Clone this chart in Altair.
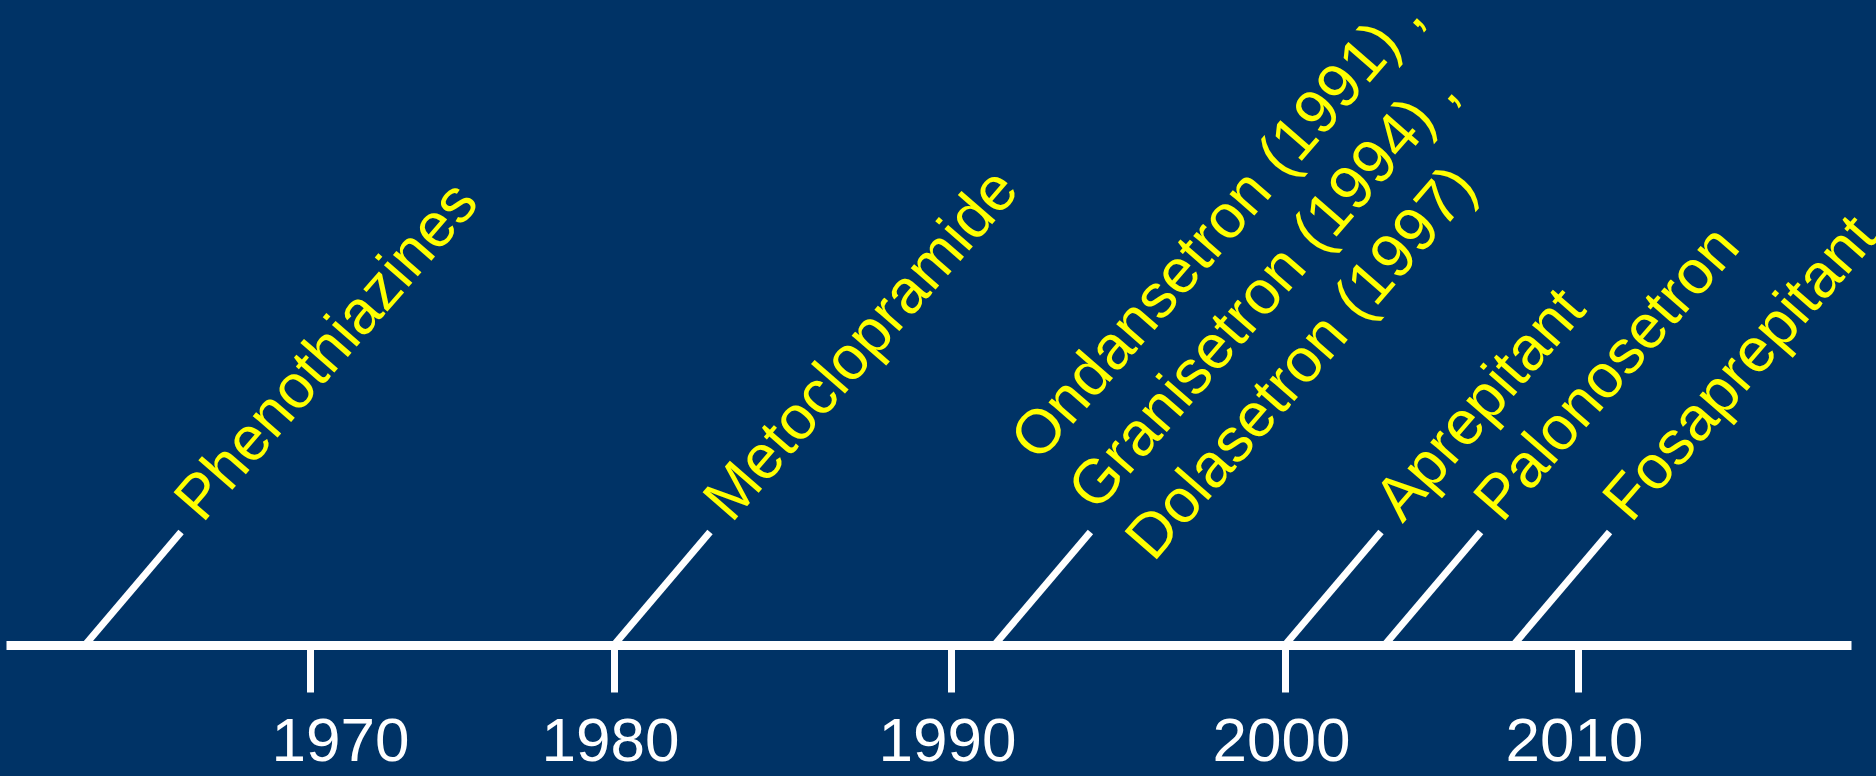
import altair as alt
import pandas as pd

# ---- data ----
axis_years = [1970, 1980, 1990, 2000, 2010]
event_years = [1962.6, 1980, 1991.3, 2000, 2003.4, 2007.8]
event_labels = [
    "Phenothiazines",
    "Metoclopramide",
    "Ondansetron (1991) ,\nGranisetron (1994) ,\nDolasetron (1997)",
    "Aprepitant",
    "Palonosetron",
    "Fosaprepitant",
]

# hand-drawn slide: decade spacing is irregular -> piecewise linear scale
scale_domain = [1960, 1970, 1980, 1990, 2000, 2010, 2020]
scale_range = [6, 310, 614, 951, 1285, 1578, 1851]

BG = "#003366"
YELLOW = "#FFFF00"
FONT = "Liberation Sans, Noto Sans CJK SC"

df = pd.DataFrame({"year": event_years, "label": event_labels})

x_scale = alt.Scale(domain=scale_domain, range=scale_range, nice=False, zero=False)
y_scale = alt.Scale(domain=[0, 1], range=[645, 532], nice=False, zero=False)

x_axis = alt.Axis(
    values=axis_years,
    format="d",
    title=None,
    grid=False,
    domainColor="white",
    domainWidth=9,
    domainCap="butt",
    tickColor="white",
    tickWidth=7,
    tickSize=47,
    tickCap="butt",
    labelColor="white",
    labelFont=FONT,
    labelFontSize=62,
    labelPadding=19,
    labelFlush=False,
    labelOverlap=False,
    labelBound=False,
    labelOffset={"condition": {"test": "datum.value === 1970", "value": 30}, "value": -4},
)

X = alt.X("year:Q", scale=x_scale, axis=x_axis)

base = alt.Chart(df)

diag = base.mark_rule(color="white", strokeWidth=7, strokeCap="butt", x2Offset=96).encode(
    x=X,
    x2="year:Q",
    y=alt.YDatum(0, scale=y_scale, axis=None),
    y2=alt.Y2Datum(1),
)

single = base.transform_filter("indexof(datum.label, '\\n') < 0").mark_text(
    align="left", baseline="alphabetic", angle=311, dx=20, dy=11, xOffset=96,
    color=YELLOW, font=FONT, fontSize=62,
).encode(
    x=X,
    y=alt.YDatum(1, scale=y_scale, axis=None),
    text="label:N",
)

multi = base.transform_filter("indexof(datum.label, '\\n') >= 0").mark_text(
    align="left", baseline="alphabetic", angle=311, dx=18, dy=-84, xOffset=96,
    lineBreak="\n", lineHeight=76,
    color=YELLOW, font=FONT, fontSize=62,
).encode(
    x=X,
    y=alt.YDatum(1, scale=y_scale, axis=None),
    text="label:N",
)

chart = (
    alt.layer(diag, single, multi)
    .properties(
        width=1876,
        height=645,
        background=BG,
        padding={"left": 0, "top": 0, "right": 0, "bottom": 131},
        autosize=alt.AutoSizeParams(type="none"),
    )
    .configure_view(stroke=None)
)

chart.save("out.html", embed_options={"renderer": "svg", "actions": False})
